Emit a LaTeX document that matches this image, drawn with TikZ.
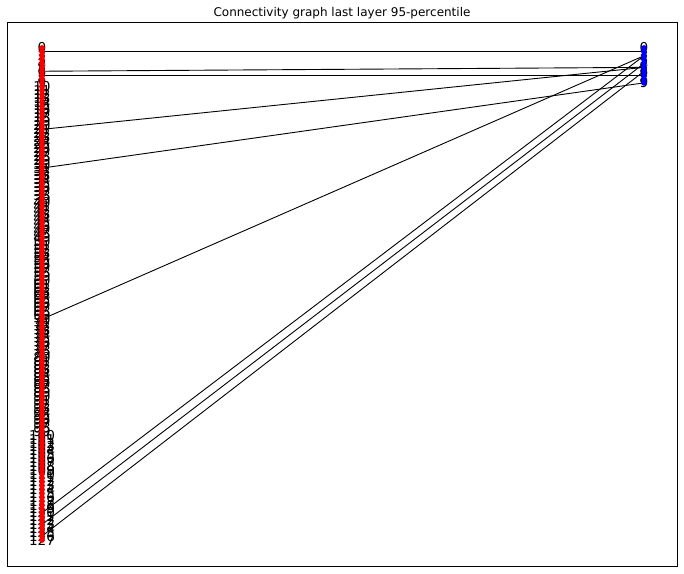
\documentclass[tikz,border=0pt]{standalone}
\usepackage{fontspec}
\setmainfont{DejaVu Sans}
\usetikzlibrary{backgrounds}
\tikzset{
  lbl/.style={inner sep=0pt, font=\fontsize{13.6}{13.6}\selectfont, text=black},
  lnode/.style={circle, fill=red, draw=none, minimum size=5.8pt, inner sep=0pt},
  rnode/.style={circle, fill=blue, draw=none, minimum size=5.8pt, inner sep=0pt},
  edge/.style={draw=black, line width=0.9pt},
  frame/.style={draw=black, line width=0.8pt},
}
\begin{document}
\begin{tikzpicture}[x=1pt,y=-1pt]
\useasboundingbox (0,0) rectangle (684,573);
\draw[frame] (7,22) rectangle (677,566);
\node[anchor=base, font=\fontsize{12}{12}\selectfont] (title) at (342,16) {Connectivity graph last layer 95-percentile};
% labels (behind nodes)
\foreach \i in {0,...,127}{
  \node[lbl] (Lt\i) at (42,{48+3.874*\i}) {\i};
}
\foreach \j in {0,...,9}{
  \node[lbl] (Rt\j) at (644,{48+3.874*\j}) {\j};
}
% nodes
\foreach \i in {0,...,127}{
  \node[lnode] (L\i) at (42,{48+3.874*\i}) {};
}
\foreach \j in {0,...,9}{
  \node[rnode] (R\j) at (644,{48+3.874*\j}) {};
}
% edges
\begin{pgfonlayer}{background}
\fill[white] (0,0) rectangle (684,573);
\foreach \a/\b in {1/1, 6/5, 7/7, 21/5, 31/9, 70/2, 120/2, 123/4, 126/6}{
  \draw[edge] (L\a.center) -- (R\b.center);
}
\end{pgfonlayer}
\end{tikzpicture}
\end{document}
